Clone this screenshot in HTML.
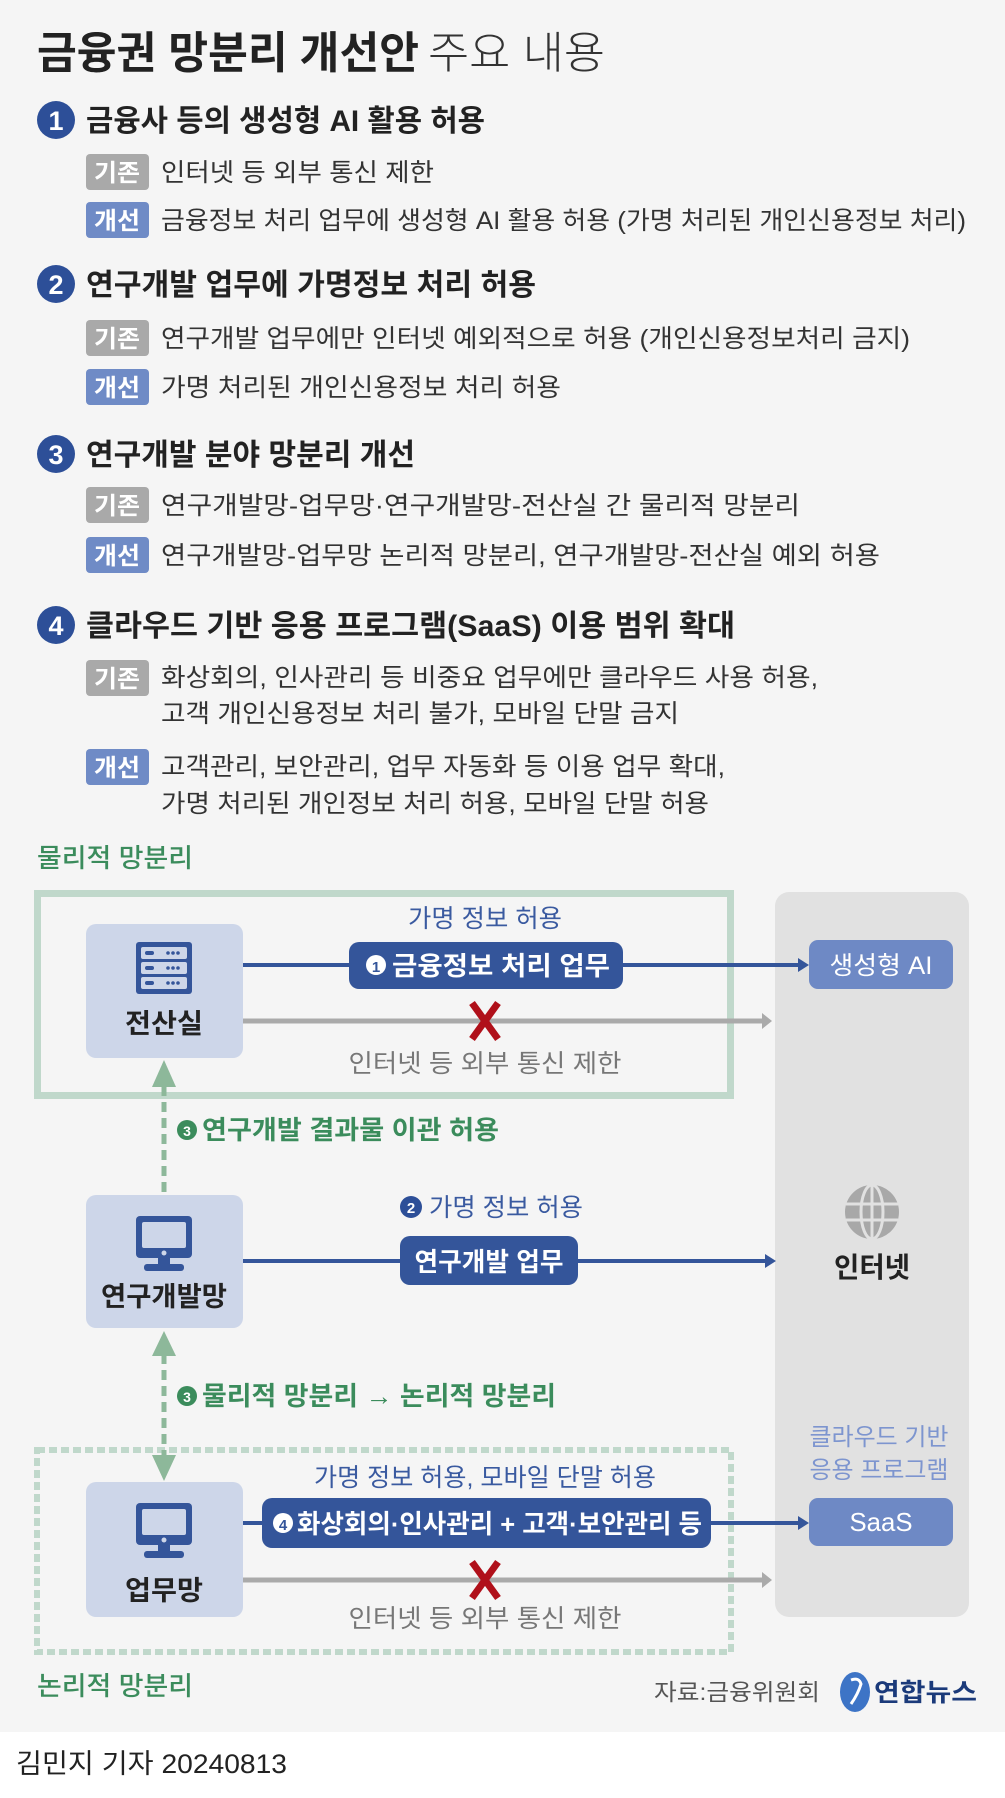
<!DOCTYPE html>
<html><head><meta charset="utf-8"><style>
html,body{margin:0;padding:0;background:#f5f5f5;}
svg{display:block;}
text{font-family:"Liberation Sans","Noto Sans CJK KR",sans-serif;}
</style></head><body>
<svg width="1005" height="1798" viewBox="0 0 1005 1798" xmlns="http://www.w3.org/2000/svg">
<rect x="0" y="0" width="1005" height="1732" fill="#f5f5f5"/>
<rect x="0" y="1732" width="1005" height="66" fill="#ffffff"/>

<!-- Title -->
<text x="37" y="68" font-size="44" font-weight="700" fill="#222" textLength="382" lengthAdjust="spacingAndGlyphs">금융권 망분리 개선안</text>
<text x="428" y="68" font-size="44" font-weight="300" fill="#333" textLength="177" lengthAdjust="spacingAndGlyphs">주요 내용</text>

<!-- Items -->
<g font-weight="700">
<circle cx="56" cy="120" r="19" fill="#2d4f98"/><text x="56" y="130" font-size="27" fill="#fff" text-anchor="middle">1</text>
<text x="86" y="131" font-size="30" fill="#222" textLength="399" lengthAdjust="spacingAndGlyphs">금융사 등의 생성형 AI 활용 허용</text>
<circle cx="56" cy="284" r="19" fill="#2d4f98"/><text x="56" y="294" font-size="27" fill="#fff" text-anchor="middle">2</text>
<text x="86" y="295" font-size="30" fill="#222" textLength="450" lengthAdjust="spacingAndGlyphs">연구개발 업무에 가명정보 처리 허용</text>
<circle cx="56" cy="454" r="19" fill="#2d4f98"/><text x="56" y="464" font-size="27" fill="#fff" text-anchor="middle">3</text>
<text x="86" y="465" font-size="30" fill="#222" textLength="329" lengthAdjust="spacingAndGlyphs">연구개발 분야 망분리 개선</text>
<circle cx="56" cy="625" r="19" fill="#2d4f98"/><text x="56" y="635" font-size="27" fill="#fff" text-anchor="middle">4</text>
<text x="86" y="636" font-size="30" fill="#222" textLength="649" lengthAdjust="spacingAndGlyphs">클라우드 기반 응용 프로그램(SaaS) 이용 범위 확대</text>
</g>

<!-- Badges -->
<g font-weight="700" font-size="24" fill="#fff" text-anchor="middle">
<rect x="86" y="154" width="63" height="36" rx="4" fill="#a9a9a9"/><text x="117" y="181" textLength="46" lengthAdjust="spacingAndGlyphs">기존</text>
<rect x="86" y="202" width="63" height="36" rx="4" fill="#6f8bc6"/><text x="117" y="229" textLength="46" lengthAdjust="spacingAndGlyphs">개선</text>
<rect x="86" y="320" width="63" height="36" rx="4" fill="#a9a9a9"/><text x="117" y="347" textLength="46" lengthAdjust="spacingAndGlyphs">기존</text>
<rect x="86" y="369" width="63" height="36" rx="4" fill="#6f8bc6"/><text x="117" y="396" textLength="46" lengthAdjust="spacingAndGlyphs">개선</text>
<rect x="86" y="487" width="63" height="36" rx="4" fill="#a9a9a9"/><text x="117" y="514" textLength="46" lengthAdjust="spacingAndGlyphs">기존</text>
<rect x="86" y="537" width="63" height="36" rx="4" fill="#6f8bc6"/><text x="117" y="564" textLength="46" lengthAdjust="spacingAndGlyphs">개선</text>
<rect x="86" y="660" width="63" height="36" rx="4" fill="#a9a9a9"/><text x="117" y="687" textLength="46" lengthAdjust="spacingAndGlyphs">기존</text>
<rect x="86" y="749" width="63" height="36" rx="4" fill="#6f8bc6"/><text x="117" y="776" textLength="46" lengthAdjust="spacingAndGlyphs">개선</text>
</g>

<!-- Row texts -->
<g font-size="25" fill="#333" lengthAdjust="spacingAndGlyphs">
<text x="161" y="181" textLength="273" lengthAdjust="spacingAndGlyphs">인터넷 등 외부 통신 제한</text>
<text x="161" y="229" textLength="805" lengthAdjust="spacingAndGlyphs">금융정보 처리 업무에 생성형 AI 활용 허용 (가명 처리된 개인신용정보 처리)</text>
<text x="161" y="347" textLength="749" lengthAdjust="spacingAndGlyphs">연구개발 업무에만 인터넷 예외적으로 허용 (개인신용정보처리 금지)</text>
<text x="161" y="396" textLength="400" lengthAdjust="spacingAndGlyphs">가명 처리된 개인신용정보 처리 허용</text>
<text x="161" y="514" textLength="639" lengthAdjust="spacingAndGlyphs">연구개발망-업무망·연구개발망-전산실 간 물리적 망분리</text>
<text x="161" y="564" textLength="719" lengthAdjust="spacingAndGlyphs">연구개발망-업무망 논리적 망분리, 연구개발망-전산실 예외 허용</text>
<text x="161" y="686" textLength="657" lengthAdjust="spacingAndGlyphs">화상회의, 인사관리 등 비중요 업무에만 클라우드 사용 허용,</text>
<text x="161" y="722" textLength="518" lengthAdjust="spacingAndGlyphs">고객 개인신용정보 처리 불가, 모바일 단말 금지</text>
<text x="161" y="775" textLength="564" lengthAdjust="spacingAndGlyphs">고객관리, 보안관리, 업무 자동화 등 이용 업무 확대,</text>
<text x="161" y="812" textLength="548" lengthAdjust="spacingAndGlyphs">가명 처리된 개인정보 처리 허용, 모바일 단말 허용</text>
</g>

<!-- Diagram -->
<text x="37" y="867" font-size="26" font-weight="500" fill="#3b8c5c" textLength="156" lengthAdjust="spacingAndGlyphs">물리적 망분리</text>
<rect x="775" y="892" width="194" height="725" rx="14" fill="#e1e1e1"/>
<rect x="37.5" y="893.5" width="693" height="202" fill="none" stroke="#c0d8cb" stroke-width="7"/>
<rect x="37" y="1450" width="694" height="202" fill="none" stroke="#c0d8cb" stroke-width="6" stroke-dasharray="8 4"/>

<!-- nodes -->
<rect x="86" y="924" width="157" height="134" rx="10" fill="#cdd6e9"/>
<rect x="86" y="1195" width="157" height="133" rx="10" fill="#cdd6e9"/>
<rect x="86" y="1482" width="157" height="135" rx="10" fill="#cdd6e9"/>

<!-- server icon -->
<rect x="136" y="942" width="56" height="52" rx="3" fill="#34559a"/>
<rect x="141" y="947" width="46" height="12" rx="2" fill="#cdd6e9"/>
<rect x="141" y="962" width="46" height="12" rx="2" fill="#cdd6e9"/>
<rect x="141" y="977" width="46" height="12" rx="2" fill="#cdd6e9"/>
<g fill="#34559a"><rect x="145" y="951" width="9" height="4" rx="2"/><rect x="145" y="966" width="9" height="4" rx="2"/><rect x="145" y="981" width="9" height="4" rx="2"/>
<circle cx="168" cy="953" r="1.8"/><circle cx="173" cy="953" r="1.8"/><circle cx="178" cy="953" r="1.8"/>
<circle cx="168" cy="968" r="1.8"/><circle cx="173" cy="968" r="1.8"/><circle cx="178" cy="968" r="1.8"/>
<circle cx="168" cy="983" r="1.8"/><circle cx="173" cy="983" r="1.8"/><circle cx="178" cy="983" r="1.8"/></g>

<!-- monitor icons -->
<g>
<rect x="136" y="1216" width="56" height="42" rx="4" fill="#34559a"/><rect x="142" y="1222" width="44" height="26" rx="2" fill="#cdd6e9"/><circle cx="164" cy="1253" r="2.5" fill="#cdd6e9"/><rect x="158" y="1258" width="12" height="6" fill="#34559a"/><rect x="144" y="1264" width="40" height="7" rx="3" fill="#34559a"/>
</g>
<g>
<rect x="136" y="1503" width="56" height="42" rx="4" fill="#34559a"/><rect x="142" y="1509" width="44" height="26" rx="2" fill="#cdd6e9"/><circle cx="164" cy="1540" r="2.5" fill="#cdd6e9"/><rect x="158" y="1545" width="12" height="6" fill="#34559a"/><rect x="144" y="1551" width="40" height="7" rx="3" fill="#34559a"/>
</g>

<g font-size="27" font-weight="700" fill="#222" text-anchor="middle">
<text x="164" y="1033" textLength="78" lengthAdjust="spacingAndGlyphs">전산실</text>
<text x="164" y="1306" textLength="126" lengthAdjust="spacingAndGlyphs">연구개발망</text>
<text x="164" y="1600" textLength="78" lengthAdjust="spacingAndGlyphs">업무망</text>
</g>

<!-- lines -->
<g stroke="#34559a" stroke-width="4">
<line x1="243" y1="965" x2="800" y2="965"/>
<line x1="243" y1="1261" x2="767" y2="1261"/>
<line x1="243" y1="1523" x2="800" y2="1523"/>
</g>
<g fill="#34559a">
<polygon points="809,965 798,958 798,972"/>
<polygon points="776,1261 765,1254 765,1268"/>
<polygon points="809,1523 798,1516 798,1530"/>
</g>
<g stroke="#aaaaaa" stroke-width="5">
<line x1="243" y1="1021" x2="764" y2="1021"/>
<line x1="243" y1="1580" x2="764" y2="1580"/>
</g>
<g fill="#aaaaaa">
<polygon points="772,1021 762,1013 762,1029"/>
<polygon points="772,1580 762,1572 762,1588"/>
</g>
<g stroke="#b0101a" stroke-width="7">
<line x1="472" y1="1003" x2="498" y2="1039"/><line x1="498" y1="1003" x2="472" y2="1039"/>
<line x1="472" y1="1562" x2="498" y2="1598"/><line x1="498" y1="1562" x2="472" y2="1598"/>
</g>

<!-- green dashed -->
<g stroke="#8db89a" stroke-width="5" stroke-dasharray="10 6">
<line x1="164" y1="1086" x2="164" y2="1195"/>
<line x1="164" y1="1354" x2="164" y2="1456"/>
</g>
<g fill="#8db89a">
<polygon points="164,1060 152,1087 176,1087"/>
<polygon points="164,1331 152,1356 176,1356"/>
<polygon points="164,1481 152,1455 176,1455"/>
</g>

<!-- pills -->
<rect x="349" y="942" width="274" height="47" rx="10" fill="#34559a"/>
<circle cx="376" cy="965" r="10" fill="#fff"/><text x="376" y="972" font-size="15" font-weight="700" fill="#34559a" text-anchor="middle">1</text>
<text x="392" y="975" font-size="26" font-weight="700" fill="#fff" textLength="218" lengthAdjust="spacingAndGlyphs">금융정보 처리 업무</text>

<rect x="400" y="1236" width="178" height="49" rx="10" fill="#34559a"/>
<text x="489" y="1271" font-size="26" font-weight="700" fill="#fff" text-anchor="middle" textLength="149" lengthAdjust="spacingAndGlyphs">연구개발 업무</text>

<rect x="262" y="1498" width="449" height="50" rx="10" fill="#34559a"/>
<circle cx="283" cy="1523" r="10" fill="#fff"/><text x="283" y="1530" font-size="15" font-weight="700" fill="#34559a" text-anchor="middle">4</text>
<text x="297" y="1533" font-size="26" font-weight="700" fill="#fff" textLength="405" lengthAdjust="spacingAndGlyphs">화상회의·인사관리 + 고객·보안관리 등</text>

<rect x="809" y="940" width="144" height="49" rx="9" fill="#6e89c5"/>
<text x="881" y="974" font-size="25" fill="#fff" text-anchor="middle" textLength="103" lengthAdjust="spacingAndGlyphs">생성형 AI</text>
<rect x="809" y="1498" width="144" height="48" rx="9" fill="#6e89c5"/>
<text x="881" y="1531" font-size="26" fill="#fff" text-anchor="middle" textLength="63" lengthAdjust="spacingAndGlyphs">SaaS</text>

<!-- blue labels -->
<g font-size="25" fill="#3a5aa0">
<text x="485" y="927" text-anchor="middle" textLength="154" lengthAdjust="spacingAndGlyphs">가명 정보 허용</text>
<circle cx="411" cy="1207" r="11" fill="#2d4f98"/><text x="411" y="1213" font-size="15" font-weight="700" fill="#fff" text-anchor="middle">2</text>
<text x="429" y="1216" textLength="154" lengthAdjust="spacingAndGlyphs">가명 정보 허용</text>
<text x="485" y="1486" text-anchor="middle" textLength="342" lengthAdjust="spacingAndGlyphs">가명 정보 허용, 모바일 단말 허용</text>
</g>
<g font-size="24" fill="#7d95cf" text-anchor="middle">
<text x="879" y="1445" textLength="139" lengthAdjust="spacingAndGlyphs">클라우드 기반</text>
<text x="879" y="1478" textLength="139" lengthAdjust="spacingAndGlyphs">응용 프로그램</text>
</g>

<!-- gray labels -->
<g font-size="25" fill="#777" text-anchor="middle">
<text x="485" y="1072" textLength="273" lengthAdjust="spacingAndGlyphs">인터넷 등 외부 통신 제한</text>
<text x="485" y="1627" textLength="273" lengthAdjust="spacingAndGlyphs">인터넷 등 외부 통신 제한</text>
</g>

<!-- green labels -->
<g font-size="26" font-weight="700" fill="#3b8c5c">
<circle cx="187" cy="1130" r="10" fill="#3b8c5c"/><text x="187" y="1136" font-size="14" fill="#fff" text-anchor="middle">3</text>
<text x="202" y="1139" textLength="297" lengthAdjust="spacingAndGlyphs">연구개발 결과물 이관 허용</text>
<circle cx="187" cy="1396" r="10" fill="#3b8c5c"/><text x="187" y="1402" font-size="14" fill="#fff" text-anchor="middle">3</text>
<text x="202" y="1405" textLength="354" lengthAdjust="spacingAndGlyphs">물리적 망분리 → 논리적 망분리</text>
</g>
<text x="37" y="1695" font-size="26" font-weight="500" fill="#3b8c5c" textLength="156" lengthAdjust="spacingAndGlyphs">논리적 망분리</text>

<!-- globe -->
<circle cx="872" cy="1212" r="27" fill="#a8a8a8"/>
<g stroke="#e1e1e1" stroke-width="3" fill="none">
<ellipse cx="872" cy="1212" rx="11" ry="27"/>
<line x1="872" y1="1185" x2="872" y2="1239"/>
<line x1="846" y1="1204" x2="898" y2="1204"/>
<line x1="846" y1="1220" x2="898" y2="1220"/>
</g>
<text x="872" y="1277" font-size="28" font-weight="700" fill="#222" text-anchor="middle" textLength="76" lengthAdjust="spacingAndGlyphs">인터넷</text>

<!-- source & logo -->
<text x="654" y="1700" font-size="23" fill="#555" textLength="166" lengthAdjust="spacingAndGlyphs">자료:금융위원회</text>
<ellipse cx="855" cy="1692" rx="15" ry="20" fill="#3d74c6"/>
<path d="M851 1680 q8 -3 10 4 q-3 10 -10 20" stroke="#fff" stroke-width="3" fill="none"/>
<text x="874" y="1701" font-size="25" font-weight="700" fill="#1b3a7a" textLength="103" lengthAdjust="spacingAndGlyphs">연합뉴스</text>

<!-- footer -->
<text x="16" y="1773" font-size="27" fill="#222" textLength="271" lengthAdjust="spacingAndGlyphs">김민지 기자 20240813</text>
</svg>
</body></html>
